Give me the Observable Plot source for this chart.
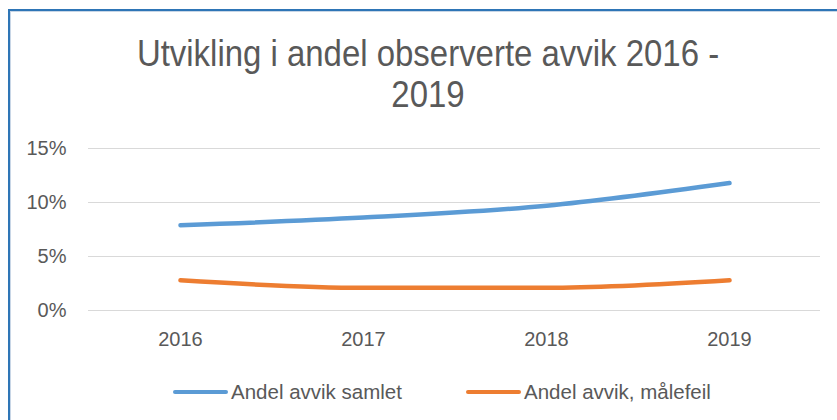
<!DOCTYPE html>
<html>
<head>
<meta charset="utf-8">
<script src="https://cdn.jsdelivr.net/npm/d3@7"></script>
<script src="https://cdn.jsdelivr.net/npm/@observablehq/plot@0.6"></script>
<style>
  html, body { margin: 0; padding: 0; background: #fff; width: 837px; height: 420px; overflow: hidden; }
  #frame { position: absolute; left: 8px; top: 9px; width: 900px; height: 480px;
           border-left: 2px solid #2E75B6; border-top: 2px solid #2E75B6;
           box-shadow: inset 1px 1px 0 #C8D6E6; }
  #title { position: absolute; left: 0; width: 856px; top: 33px; text-align: center;
           font-family: "Liberation Sans", sans-serif; font-size: 36px;
           line-height: 41px; color: #595959; transform: scaleX(0.915); transform-origin: 428px 0; }
  #chart { position: absolute; left: 0; top: 120px; }
  .leg { position: absolute; top: 380px; display: flex; align-items: center;
         font-family: "Liberation Sans", sans-serif; font-size: 20.5px; color: #595959; }
  .sw { width: 55px; height: 4.5px; border-radius: 3px; margin-right: 3px; }
</style>
</head>
<body>
<div id="frame"></div>
<div id="title">Utvikling i andel observerte avvik 2016 -<br>2019</div>
<div id="chart"></div>
<div id="legend"></div>
<script>
const years = ["2016", "2017", "2018", "2019"];
const seriesNames = ["Andel avvik samlet", "Andel avvik, målefeil"];
const samlet = [0.079, 0.086, 0.097, 0.118];
const malefeil = [0.028, 0.021, 0.021, 0.028];
const colors = ["#5B9BD5", "#ED7D31"];
const yTicks = [0, 0.05, 0.10, 0.15];

const rows = [];
[samlet, malefeil].forEach((vals, s) => {
  years.forEach((yr, i) => rows.push({year: yr, value: vals[i], series: seriesNames[s]}));
});

const font = '"Liberation Sans", sans-serif';

const plot = Plot.plot({
  width: 837,
  height: 240,
  marginLeft: 88,
  marginRight: 17,
  marginTop: 28,
  marginBottom: 50,
  style: { fontFamily: font, fontSize: "20px", color: "#595959", background: "transparent" },
  x: { type: "point", domain: years, padding: 0.5, label: null },
  y: { domain: [0, 0.15], label: null },
  color: { domain: seriesNames, range: colors },
  marks: [
    Plot.gridY(yTicks, { stroke: "#D9D9D9", strokeOpacity: 1, strokeWidth: 1 }),
    Plot.axisY(yTicks, { tickSize: 0, tickPadding: 22, tickFormat: d3.format(".0%"), fill: "#595959", fontSize: 20, label: null }),
    Plot.axisX({ tickSize: 0, tickPadding: 21, fill: "#595959", fontSize: 20, label: null }),
    Plot.line(rows, { x: "year", y: "value", z: "series", stroke: "series",
      strokeWidth: 4.5, curve: "monotone-x", strokeLinecap: "round", strokeLinejoin: "round" })
  ]
});
document.getElementById("chart").appendChild(plot);

const legend = document.getElementById("legend");
const legLeft = [173, 466];
seriesNames.forEach((name, i) => {
  const item = document.createElement("div");
  item.className = "leg";
  item.style.left = legLeft[i] + "px";
  const sw = document.createElement("div");
  sw.className = "sw";
  sw.style.background = colors[i];
  const tx = document.createElement("span");
  tx.textContent = name;
  item.appendChild(sw);
  item.appendChild(tx);
  legend.appendChild(item);
});
</script>
</body>
</html>
